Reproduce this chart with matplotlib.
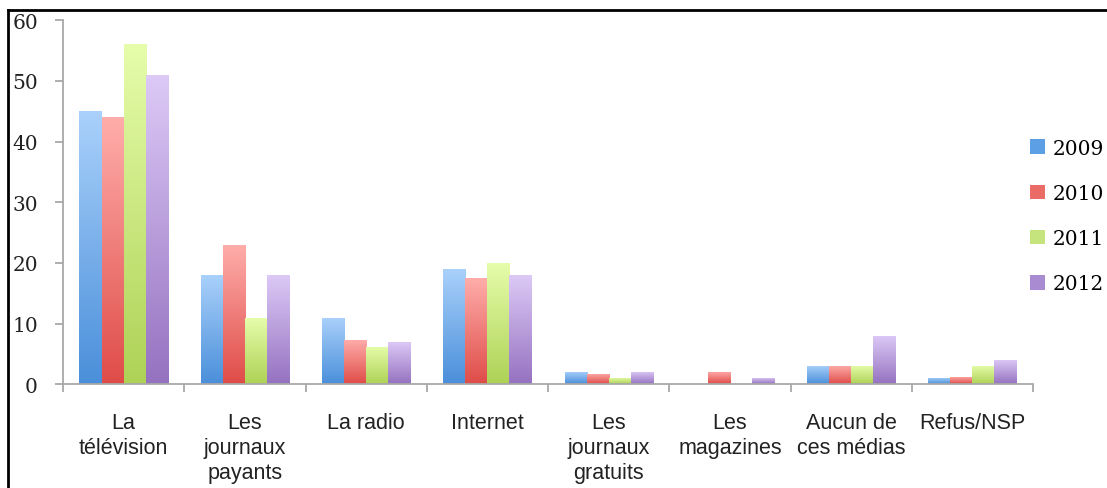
import matplotlib
matplotlib.use("Agg")
import matplotlib.pyplot as plt
import numpy as np
from matplotlib.colors import LinearSegmentedColormap
from matplotlib.patches import Patch
from matplotlib.lines import Line2D

categories = ["La\ntélévision", "Les\njournaux\npayants", "La radio", "Internet",
              "Les\njournaux\ngratuits", "Les\nmagazines", "Aucun de\nces médias",
              "Refus/NSP"]
years = ["2009", "2010", "2011", "2012"]
v2009 = [45, 18, 11, 19, 2, 0, 3, 1]
v2010 = [44, 23, 7.4, 17.6, 1.8, 2.1, 3, 1.2]
v2011 = [56, 11, 6.1, 20, 1, 0, 3, 3]
v2012 = [51, 18, 7, 18, 2, 1, 8, 4]
series = [v2009, v2010, v2011, v2012]

# (top, bottom) colours of each bar gradient, plus a flat swatch colour
grad_top = ["#aad1fb", "#ffaeab", "#e6fdab", "#ddcaf7"]
grad_bot = ["#4a8fda", "#df4c48", "#aed256", "#9572c0"]
swatch = ["#5c9fe4", "#eb6b67", "#c6e47e", "#a98bd1"]

fig = plt.figure(figsize=(11.07, 4.89), dpi=100)
ax = fig.add_axes([0.0569, 0.2117, 0.8763, 0.7453])

n = len(categories)
x = np.arange(n) + 0.5
w = 0.182
grad = np.linspace(0, 1, 256).reshape(-1, 1)

for k, vals in enumerate(series):
    bars = ax.bar(x + (k - 1.5) * w, vals, width=w, color=swatch[k], linewidth=0)
    cmap = LinearSegmentedColormap.from_list("g%d" % k, [grad_bot[k], grad_top[k]])
    for b in bars:
        h = b.get_height()
        if h <= 0:
            continue
        x0 = b.get_x()
        im = ax.imshow(grad, cmap=cmap, origin="lower", aspect="auto",
                       extent=[x0, x0 + b.get_width(), 0, h], zorder=2)
        im.set_clip_path(b)

ax.set_xlim(0, n)
ax.set_ylim(0, 60)

for s in ["top", "right"]:
    ax.spines[s].set_visible(False)
for s in ["left", "bottom"]:
    ax.spines[s].set_color("#a8a8a8")
    ax.spines[s].set_linewidth(1.3)

ax.set_yticks(np.arange(0, 61, 10))
ax.tick_params(axis="y", direction="out", length=6, width=1.3, color="#a8a8a8",
               pad=12, labelsize=14.5)
for t in ax.get_yticklabels():
    t.set_fontfamily("DejaVu Serif")
    t.set_color("#222222")

ax.set_xticks(np.arange(0, n + 1), minor=True)
ax.set_xticks(x)
ax.set_xticklabels(categories, fontfamily="Liberation Sans", fontsize=15.5,
                   linespacing=1.25, color="#222222")
ax.tick_params(axis="x", which="major", length=0, pad=20)
ax.tick_params(axis="x", which="minor", direction="out", length=6, width=1.3,
               color="#a8a8a8")

handles = [Patch(facecolor=c, edgecolor="none") for c in swatch]
leg = fig.legend(handles, years, loc="center left",
                 bbox_to_anchor=(1020 / 1107, 1 - 217 / 489),
                 frameon=False, handlelength=0.75, handleheight=0.75,
                 handletextpad=0.35, labelspacing=1.3, borderpad=0,
                 prop={"family": "DejaVu Serif", "size": 14.5})

# outer frame along the top and left edge of the figure
fig.add_artist(Line2D([8 / 1107, 8 / 1107], [0, 1 - 11 / 489],
                      transform=fig.transFigure, color="black", lw=2))
fig.add_artist(Line2D([8 / 1107, 1], [1 - 11 / 489, 1 - 11 / 489],
                      transform=fig.transFigure, color="black", lw=2))

fig.savefig("out.png", dpi=100)
